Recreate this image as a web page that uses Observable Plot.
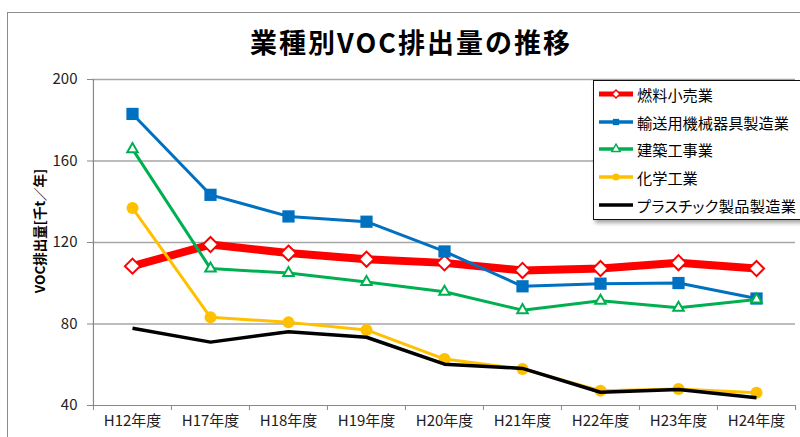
<!DOCTYPE html>
<html><head><meta charset="utf-8">
<script src="https://cdn.jsdelivr.net/npm/d3@7"></script>
<script src="https://cdn.jsdelivr.net/npm/@observablehq/plot@0.6"></script>
<style>
body{margin:0;background:#fff;overflow:hidden;}
#wrap{position:relative;width:800px;height:437px;overflow:hidden;font-family:"Noto Sans CJK JP","Noto Sans",sans-serif;background:#fff;}
#chart{position:absolute;left:0;top:0;}
#frame{position:absolute;left:7px;top:12px;width:900px;height:600px;border-top:1px solid #8c8c8c;border-left:1px solid #8c8c8c;pointer-events:none;}
#title{position:absolute;top:27px;left:411px;transform:translateX(-50%);font-weight:bold;font-size:27px;line-height:30px;letter-spacing:2px;white-space:nowrap;color:#000;}
#ylabel{position:absolute;left:39px;top:231px;transform:translate(-50%,-50%) rotate(-90deg);font-weight:bold;font-size:13.5px;white-space:nowrap;color:#000;}
#legend{position:absolute;left:593px;top:80px;width:240px;height:138px;border:1px solid #111;background:#fff;box-shadow:2px 3px 4px rgba(0,0,0,0.35);}
.row{position:absolute;left:4px;height:28px;display:flex;align-items:center;font-size:15.2px;white-space:nowrap;color:#000;}
.row svg{margin-right:2px;}
.row span.p{font-feature-settings:"palt";letter-spacing:0.3px;}
</style></head>
<body><div id="wrap"><div id="chart"></div><div id="frame"></div><div id="title">業種別VOC排出量の推移</div><div id="ylabel">VOC排出量[千t／年]</div><div id="legend"></div></div>
<script>
const categories = ["H12年度","H17年度","H18年度","H19年度","H20年度","H21年度","H22年度","H23年度","H24年度"];
const seriesNames = ["燃料小売業","輸送用機械器具製造業","建築工事業","化学工業","プラスチック製品製造業"];
const fuelRetail = [108.4, 119.0, 114.8, 111.8, 110.0, 106.3, 107.2, 110.1, 107.2];
const transportMachinery = [183.1, 143.4, 132.8, 130.2, 115.6, 98.5, 99.8, 100.1, 92.5];
const construction = [165.8, 107.2, 105.0, 100.6, 95.8, 86.8, 91.4, 88.0, 92.0];
const chemical = [136.9, 83.3, 80.8, 77.1, 62.8, 57.9, 47.3, 48.1, 46.2];
const plastic = [77.9, 71.1, 76.2, 73.5, 60.3, 58.2, 46.5, 47.8, 43.8];
const yTicks = [40, 80, 120, 160, 200];

const seriesValues = [fuelRetail, transportMachinery, construction, chemical, plastic];
const colors = ["#ff0000", "#0070c0", "#00b050", "#ffc000", "#000000"];
const lineWidths = [8, 3, 3, 3, 3.5];
const symbols = ["diamond2", "square", "triangle", "circle", null];
const symFill = ["#fff", "#0070c0", "#fff", "#ffc000", null];
const symStroke = ["#ff0000", "none", "#00b050", "none", null];
const symR = [6.8, 6.9, 3.9, 6, 0];

const W = 800, H = 437, mL = 92, mR = 5, mT = 79, mB = 32;
const bw = (W - mL - mR) / categories.length;

const data = seriesNames.map((s, si) => categories.map((c, i) => ({series: s, cat: c, value: seriesValues[si][i]})));

const marks = [
  Plot.ruleY(yTicks.slice(1), {stroke: "#a6a6a6", strokeWidth: 1.5}),
  Plot.ruleY([yTicks[0]], {stroke: "#888", strokeWidth: 1.2}),
  Plot.ruleX([categories[0]], {dx: -bw / 2, stroke: "#888", strokeWidth: 1.2}),
  Plot.axisY(yTicks, {tickSize: 5, tickPadding: 10, fontSize: 15, stroke: "#888", label: null, fill: "#222"}),
  Plot.axisX({tickSize: 0, tickPadding: 10, fontSize: 15, label: null, fill: "#222"}),
  Plot.axisX({tickSize: 5, text: null, dx: -bw / 2, stroke: "#888", label: null}),
  Plot.ruleX([categories[categories.length - 1]], {dx: bw / 2, y1: yTicks[0], y2: yTicks[0], insetBottom: -5, stroke: "#888"})
];
data.forEach((d, si) => {
  marks.push(Plot.line(d, {x: "cat", y: "value", stroke: colors[si], strokeWidth: lineWidths[si], strokeLinejoin: "miter", strokeLinecap: "butt"}));
  if (symbols[si]) {
    marks.push(Plot.dot(d, {x: "cat", y: "value", symbol: symbols[si], r: symR[si], fill: symFill[si], stroke: symStroke[si], strokeWidth: 2}));
  }
});

const chart = Plot.plot({
  width: W, height: H,
  marginLeft: mL, marginRight: mR, marginTop: mT, marginBottom: mB,
  x: {type: "band", domain: categories, padding: 0},
  y: {domain: [yTicks[0], yTicks[yTicks.length - 1]]},
  style: {fontFamily: '"Noto Sans CJK JP","Noto Sans",sans-serif', background: "transparent"},
  marks
});
document.getElementById("chart").appendChild(chart);

// Legend
const legend = document.getElementById("legend");
const legSize = [40, 40, 30, 40, 0];
seriesNames.forEach((name, si) => {
  const row = document.createElement("div");
  row.className = "row";
  row.style.top = (-1 + si * 27.7) + "px";
  const svg = d3.create("svg").attr("width", 37).attr("height", 16);
  svg.append("line").attr("x1", 1).attr("x2", 35).attr("y1", 8).attr("y2", 8)
    .attr("stroke", colors[si]).attr("stroke-width", si === 0 ? 5 : 3.5);
  if (symbols[si]) {
    const symMap = {diamond2: d3.symbolDiamond2, square: d3.symbolSquare, triangle: d3.symbolTriangle, circle: d3.symbolCircle};
    svg.append("path").attr("transform", "translate(18,8)")
      .attr("d", d3.symbol(symMap[symbols[si]], legSize[si])())
      .attr("fill", symFill[si]).attr("stroke", symStroke[si]).attr("stroke-width", 1.5);
  }
  row.appendChild(svg.node());
  const span = document.createElement("span");
  span.textContent = name;
  if (si === seriesNames.length - 1) span.className = "p";
  row.appendChild(span);
  legend.appendChild(row);
});
</script></body></html>
